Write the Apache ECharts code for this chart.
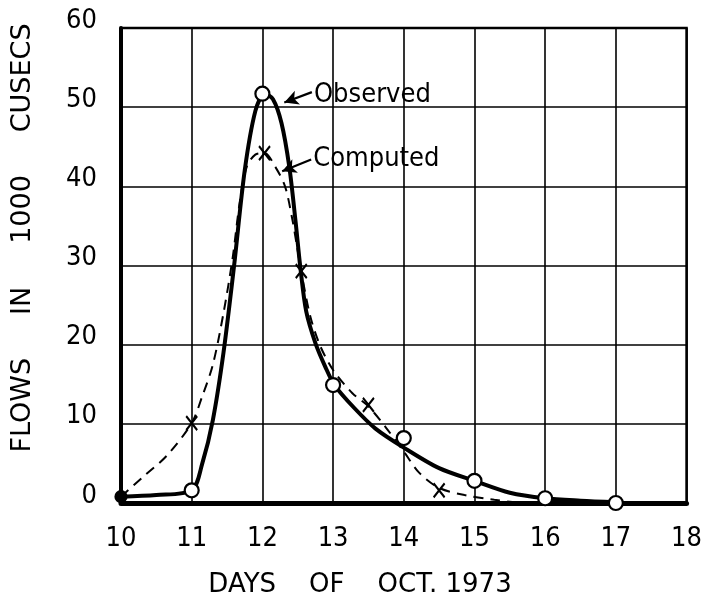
<!DOCTYPE html>
<html><head><meta charset="utf-8">
<script src="https://cdn.jsdelivr.net/npm/echarts@6/dist/echarts.min.js"></script>
<style>html,body{margin:0;padding:0;background:#fff}#c{width:705px;height:603px}</style>
</head><body><div id="c"></div>
<script>
// Observed hydrograph (solid curve)
const obsCurveX = [10, 10.5, 11, 11.15, 11.3, 11.45, 11.6, 11.75, 11.9, 12.03, 12.15, 12.27, 12.38, 12.47, 12.54, 12.62, 12.75, 12.89, 13.02, 13.3, 13.6, 14.0, 14.5, 15.0, 15.5, 16.0, 16.5, 17.0];
const obsCurveY = [0.8, 1.0, 1.6, 5.0, 10.5, 19.0, 30.0, 42.0, 49.5, 51.7, 51.0, 48.0, 42.5, 35.5, 29.5, 24.2, 20.2, 17.2, 14.9, 12.0, 9.4, 7.0, 4.4, 2.8, 1.3, 0.6, 0.3, 0.1];
// Observed points (circles)
const obsPointX = [10, 11, 12, 13, 14, 15, 16, 17];
const obsPointY = [0.8, 1.6, 51.7, 14.9, 8.2, 2.8, 0.6, 0.0];
// Computed hydrograph (dashed curve)
const compCurveX = [10, 10.3, 10.65, 11, 11.15, 11.3, 11.45, 11.58, 11.68, 11.78, 11.9, 12.03, 12.18, 12.32, 12.42, 12.49, 12.55, 12.68, 12.82, 13.0, 13.27, 13.5, 13.75, 14.0, 14.22, 14.5, 14.86, 15.28, 15.6, 16.0, 16.3];
const compCurveY = [0.8, 3.2, 6.0, 10.1, 13.5, 17.5, 24.0, 31.0, 38.0, 42.5, 44.0, 44.2, 42.5, 40.0, 36.0, 32.4, 29.2, 23.5, 19.8, 16.8, 13.9, 12.2, 9.5, 6.5, 3.8, 1.9, 1.0, 0.4, 0.1, 0.0, 0.0];
// Computed points (crosses)
const compPointX = [11, 12.03, 12.55, 13.5, 14.5];
const compPointY = [10.1, 44.2, 29.3, 12.4, 1.6];
// Annotations
const annoText = ['Observed', 'Computed'];
const annoTailX = [12.70, 12.69];
const annoTailY = [51.9, 43.4];
const annoHeadX = [12.31, 12.28];
const annoHeadY = [50.6, 41.9];
const annoTextX = [12.73, 12.72];
const annoTextY = [51.6, 43.4];
// Axis titles
const xTitle = 'DAYS    OF    OCT. 1973';
const yTitle = 'FLOWS     IN     1000     CUSECS';

const FONT = '"DejaVu Sans Condensed","Liberation Sans",sans-serif';
const TFONT = '"DejaVu Sans","Liberation Sans",sans-serif';
const zip = (xs, ys) => xs.map((x, i) => [x, ys[i]]);
const chart = echarts.init(document.getElementById('c'), null, {renderer: 'canvas'});

const obsData = zip(obsPointX, obsPointY).map((p, i) => i === 0 ? {value: p, itemStyle: {color: '#000'}, symbolSize: 11} : p);

const option = {
  animation: false,
  backgroundColor: '#fff',
  grid: {left: 121, right: 15, top: 28, bottom: 100, show: true, borderColor: '#000', borderWidth: 2.5},
  xAxis: {
    type: 'value', min: 10, max: 18, interval: 1,
    axisLine: {show: true, onZero: false, lineStyle: {color: '#000', width: 5}},
    axisTick: {show: false},
    splitLine: {show: true, lineStyle: {color: '#000', width: 1.6}},
    axisLabel: {color: '#000', fontSize: 27, fontFamily: FONT, margin: 22}
  },
  yAxis: {
    type: 'value', min: 0, max: 60, interval: 10,
    axisLine: {show: true, lineStyle: {color: '#000', width: 4}},
    axisTick: {show: false},
    splitLine: {show: true, lineStyle: {color: '#000', width: 1.6}},
    axisLabel: {color: '#000', fontSize: 27, fontFamily: FONT, margin: 24, verticalAlign: 'bottom', lineHeight: 15}
  },
  series: [
    {type: 'line', data: zip(obsCurveX, obsCurveY), smooth: 0.3, symbol: 'none',
     lineStyle: {color: '#000', width: 4}, z: 3},
    {type: 'line', data: zip(compCurveX, compCurveY), smooth: 0.3, symbol: 'none',
     lineStyle: {color: '#000', width: 2, type: [10, 7]}, z: 2},
    {type: 'scatter', data: obsData, symbol: 'circle', symbolSize: 14,
     itemStyle: {color: '#fff', borderColor: '#000', borderWidth: 2.2, opacity: 1}, z: 5},
    {type: 'scatter', data: zip(compPointX, compPointY), symbol: 'path://M0,0L10,12M10,0L0,12', symbolSize: [11, 14],
     itemStyle: {color: 'none', borderColor: '#000', borderWidth: 2.2, opacity: 1}, z: 5},
    {type: 'scatter', data: zip(annoTextX, annoTextY).map((p, i) => ({value: p, name: annoText[i]})),
     symbolSize: 0, silent: true, z: 6, itemStyle: {opacity: 1},
     label: {show: true, position: 'right', distance: 0, formatter: '{b}', color: '#000', fontSize: 27, fontFamily: FONT},
     markLine: {
       silent: true, symbol: ['none', 'arrow'], symbolSize: [11, 14],
       lineStyle: {color: '#000', width: 2.2, type: 'solid', opacity: 1},
       label: {show: false},
       data: annoText.map((t, i) => [{coord: [annoTailX[i], annoTailY[i]]}, {coord: [annoHeadX[i], annoHeadY[i]]}])
     }}
  ],
  graphic: [
    {type: 'text', x: 360, y: 585,
     style: {text: xTitle, fill: '#000', font: '26px ' + TFONT, textAlign: 'center', textVerticalAlign: 'middle'}},
    {type: 'text', x: 23, y: 238, rotation: Math.PI / 2,
     style: {text: yTitle, fill: '#000', font: '27px ' + TFONT, textAlign: 'center', textVerticalAlign: 'middle'}}
  ]
};
chart.setOption(option);
</script>
</body></html>
